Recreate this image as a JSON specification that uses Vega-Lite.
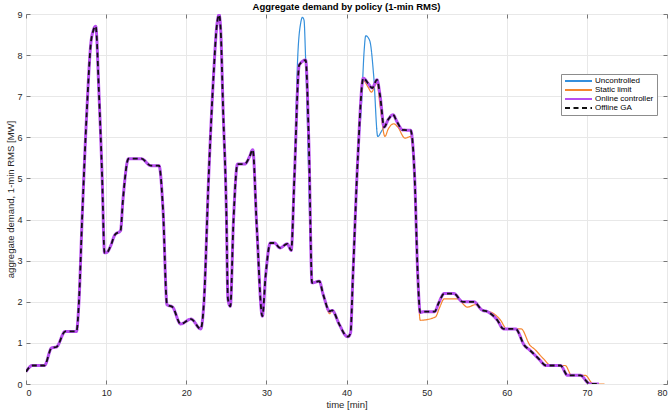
{
  "$schema": "https://vega.github.io/schema/vega-lite/v6.json",
  "width": 641,
  "height": 370,
  "autosize": {"type": "none"},
  "padding": {"left": 26, "top": 14, "right": 4, "bottom": 29},
  "background": "white",
  "title": {"text": "Aggregate demand by policy (1-min RMS)", "fontSize": 9.5, "font": "Liberation Sans", "fontWeight": "bold", "color": "#000000", "offset": 1, "dy": 2.5, "anchor": "middle", "frame": "group"},
  "config": {
    "font": "Liberation Sans",
    "view": {"stroke": "#8c8c8c", "strokeWidth": 1},
    "axis": {
      "labelFont": "Liberation Sans", "labelFontSize": 9, "labelColor": "#262626",
      "titleFont": "Liberation Sans", "titleFontSize": 9.5, "titleFontWeight": "normal", "titleColor": "#262626",
      "gridColor": "#e8e8e8", "gridWidth": 1, "domain": false,
      "tickColor": "#777777", "tickSize": -4, "labelPadding": 8
    },
    "legend": {
      "orient": "none", "legendX": 535, "legendY": 60,
      "symbolType": "stroke", "symbolSize": 729, "symbolStrokeWidth": 2,
      "labelFont": "Liberation Sans", "labelFontSize": 8, "labelColor": "#000000",
      "clipHeight": 8, "rowPadding": 1, "padding": 3, "labelOffset": 2,
      "fillColor": "white", "strokeColor": "#8c8c8c"
    }
  },
  "datasets": {
    "unc": [
      {"t":0,"v":0.30},{"t":0.8,"v":0.45},{"t":2.3,"v":0.45},{"t":3.2,"v":0.88},{"t":3.8,"v":0.90},{"t":4.9,"v":1.28},{"t":6.3,"v":1.28},{"t":6.6,"v":1.97},{"t":7.0,"v":4.0},{"t":7.6,"v":6.67},{"t":8.1,"v":8.3},{"t":8.4,"v":8.6},{"t":8.7,"v":8.7},{"t":9.1,"v":7.1},{"t":9.5,"v":5.05},{"t":9.8,"v":3.19},{"t":10.1,"v":3.2},{"t":10.5,"v":3.33},{"t":11.1,"v":3.63},{"t":11.8,"v":3.73},{"t":12.1,"v":4.48},{"t":12.8,"v":5.48},{"t":14.4,"v":5.48},{"t":15.6,"v":5.31},{"t":16.6,"v":5.31},{"t":17.1,"v":4.24},{"t":17.6,"v":1.93},{"t":18.3,"v":1.87},{"t":19.3,"v":1.46},{"t":20.6,"v":1.58},{"t":21.8,"v":1.34},{"t":22.2,"v":1.97},{"t":22.8,"v":5.05},{"t":23.4,"v":7.48},{"t":23.8,"v":8.69},{"t":24.1,"v":8.98},{"t":24.3,"v":8.61},{"t":24.6,"v":6.67},{"t":25.0,"v":4.24},{"t":25.2,"v":2.07},{"t":25.5,"v":1.89},{"t":25.9,"v":4.0},{"t":26.4,"v":5.35},{"t":27.3,"v":5.35},{"t":27.9,"v":5.53},{"t":28.3,"v":5.7},{"t":28.8,"v":3.83},{"t":29.5,"v":1.65},{"t":29.9,"v":2.62},{"t":30.5,"v":3.43},{"t":31.0,"v":3.43},{"t":31.7,"v":3.31},{"t":32.6,"v":3.41},{"t":33.1,"v":3.25},
      {"t":33.5,"v":5.1},{"t":33.9,"v":7.9},{"t":34.3,"v":8.8},{"t":34.5,"v":8.92},{"t":34.7,"v":8.85},{"t":34.9,"v":7.9},{"t":35.75,"v":2.46},
      {"t":36.6,"v":2.5},{"t":37.1,"v":2.17},{"t":37.9,"v":1.77},{"t":38.2,"v":1.79},{"t":39.1,"v":1.45},{"t":40.0,"v":1.16},{"t":40.2,"v":1.15},{"t":40.5,"v":1.24},{"t":40.8,"v":2.62},{"t":41.4,"v":5.45},
      {"t":41.9,"v":6.9},{"t":42.2,"v":8.1},{"t":42.4,"v":8.47},{"t":42.9,"v":8.35},{"t":43.4,"v":7.48},{"t":43.9,"v":6.02},{"t":44.4,"v":6.16},{"t":44.7,"v":6.25},
      {"t":45.2,"v":6.43},{"t":45.8,"v":6.55},{"t":46.3,"v":6.38},{"t":47.0,"v":6.18},{"t":48.0,"v":6.17},{"t":48.5,"v":5.05},{"t":48.9,"v":2.62},{"t":49.2,"v":1.74},{"t":49.7,"v":1.76},{"t":51.0,"v":1.76},{"t":51.5,"v":1.97},{"t":52.2,"v":2.2},{"t":53.4,"v":2.2},{"t":54.5,"v":2.0},{"t":55.9,"v":2.0},{"t":56.9,"v":1.8},{"t":57.6,"v":1.76},{"t":58.8,"v":1.56},{"t":59.6,"v":1.34},{"t":61.1,"v":1.34},{"t":62.2,"v":0.94},{"t":62.9,"v":0.82},{"t":64.0,"v":0.61},{"t":64.9,"v":0.45},{"t":66.7,"v":0.45},{"t":67.6,"v":0.21},{"t":69.2,"v":0.21},{"t":70.2,"v":0.02},{"t":70.6,"v":0},{"t":71.5,"v":0}
    ],
    "stat": [
      {"t":0,"v":0.30},{"t":0.8,"v":0.45},{"t":2.3,"v":0.45},{"t":3.2,"v":0.88},{"t":3.8,"v":0.90},{"t":4.9,"v":1.28},{"t":6.3,"v":1.28},{"t":6.6,"v":1.97},{"t":7.0,"v":4.0},{"t":7.6,"v":6.67},{"t":8.1,"v":8.3},{"t":8.4,"v":8.6},{"t":8.7,"v":8.7},{"t":9.1,"v":7.1},{"t":9.5,"v":5.05},{"t":9.8,"v":3.19},{"t":10.1,"v":3.2},{"t":10.5,"v":3.33},{"t":11.1,"v":3.63},{"t":11.8,"v":3.73},{"t":12.1,"v":4.48},{"t":12.8,"v":5.48},{"t":14.4,"v":5.48},{"t":15.6,"v":5.31},{"t":16.6,"v":5.31},{"t":17.1,"v":4.24},{"t":17.6,"v":1.93},{"t":18.3,"v":1.87},{"t":19.3,"v":1.46},{"t":20.6,"v":1.58},{"t":21.8,"v":1.34},{"t":22.2,"v":1.97},{"t":22.8,"v":5.05},{"t":23.4,"v":7.48},{"t":23.8,"v":8.69},{"t":24.1,"v":8.98},{"t":24.3,"v":8.61},{"t":24.6,"v":6.67},{"t":25.0,"v":4.24},{"t":25.2,"v":2.07},{"t":25.5,"v":1.89},{"t":25.9,"v":4.0},{"t":26.4,"v":5.35},{"t":27.3,"v":5.35},{"t":27.9,"v":5.53},{"t":28.3,"v":5.7},{"t":28.8,"v":3.83},{"t":29.5,"v":1.65},{"t":29.9,"v":2.62},{"t":30.5,"v":3.43},{"t":31.0,"v":3.43},{"t":31.7,"v":3.31},{"t":32.6,"v":3.41},{"t":33.1,"v":3.25},{"t":33.5,"v":5.05},{"t":34.1,"v":7.74},{"t":34.9,"v":7.86},{"t":35.3,"v":5.86},{"t":35.7,"v":2.46},{"t":36.6,"v":2.5},{"t":37.1,"v":2.17},{"t":37.9,"v":1.71},{"t":38.2,"v":1.79},{"t":39.1,"v":1.45},{"t":40.0,"v":1.16},{"t":40.2,"v":1.15},{"t":40.5,"v":1.24},{"t":40.8,"v":2.62},{"t":41.4,"v":5.45},
      {"t":42.1,"v":7.38},{"t":42.7,"v":7.22},{"t":43.1,"v":7.1},{"t":43.8,"v":7.32},{"t":44.2,"v":6.75},{"t":44.8,"v":6.02},{"t":45.2,"v":6.2},{"t":45.9,"v":6.33},{"t":46.4,"v":6.25},{"t":47.3,"v":5.98},{"t":48.0,"v":6.02},{"t":48.5,"v":5.0},{"t":48.9,"v":2.55},{"t":49.2,"v":1.55},{"t":51.1,"v":1.63},{"t":51.6,"v":1.85},{"t":52.2,"v":2.07},{"t":53.8,"v":2.07},{"t":55.1,"v":1.87},{"t":56.1,"v":1.93},{"t":57.1,"v":1.79},{"t":58.2,"v":1.73},{"t":59.2,"v":1.56},{"t":60.0,"v":1.34},{"t":61.8,"v":1.34},{"t":62.9,"v":0.94},{"t":63.4,"v":0.86},{"t":64.6,"v":0.61},{"t":65.5,"v":0.45},{"t":67.3,"v":0.45},{"t":68.1,"v":0.21},{"t":69.8,"v":0.21},{"t":70.8,"v":0},{"t":72.2,"v":0}
    ],
    "online": [
      {"t":0,"v":0.30},{"t":0.8,"v":0.45},{"t":2.3,"v":0.45},{"t":3.2,"v":0.88},{"t":3.8,"v":0.90},{"t":4.9,"v":1.28},{"t":6.3,"v":1.28},{"t":6.6,"v":1.97},{"t":7.0,"v":4.0},{"t":7.6,"v":6.67},{"t":8.1,"v":8.3},{"t":8.4,"v":8.6},{"t":8.7,"v":8.7},{"t":9.1,"v":7.1},{"t":9.5,"v":5.05},{"t":9.8,"v":3.19},{"t":10.1,"v":3.2},{"t":10.5,"v":3.33},{"t":11.1,"v":3.63},{"t":11.8,"v":3.73},{"t":12.1,"v":4.48},{"t":12.8,"v":5.48},{"t":14.4,"v":5.48},{"t":15.6,"v":5.31},{"t":16.6,"v":5.31},{"t":17.1,"v":4.24},{"t":17.6,"v":1.93},{"t":18.3,"v":1.87},{"t":19.3,"v":1.46},{"t":20.6,"v":1.58},{"t":21.8,"v":1.34},{"t":22.2,"v":1.97},{"t":22.8,"v":5.05},{"t":23.4,"v":7.48},{"t":23.8,"v":8.69},{"t":24.1,"v":8.98},{"t":24.3,"v":8.61},{"t":24.6,"v":6.67},{"t":25.0,"v":4.24},{"t":25.2,"v":2.07},{"t":25.5,"v":1.89},{"t":25.9,"v":4.0},{"t":26.4,"v":5.35},{"t":27.3,"v":5.35},{"t":27.9,"v":5.53},{"t":28.3,"v":5.7},{"t":28.8,"v":3.83},{"t":29.5,"v":1.65},{"t":29.9,"v":2.62},{"t":30.5,"v":3.43},{"t":31.0,"v":3.43},{"t":31.7,"v":3.31},{"t":32.6,"v":3.41},{"t":33.1,"v":3.25},{"t":33.5,"v":5.05},{"t":34.1,"v":7.76},{"t":34.9,"v":7.88},{"t":35.3,"v":5.86},{"t":35.7,"v":2.46},{"t":36.6,"v":2.5},{"t":37.1,"v":2.17},{"t":37.9,"v":1.77},{"t":38.2,"v":1.79},{"t":39.1,"v":1.45},{"t":40.0,"v":1.16},{"t":40.2,"v":1.15},{"t":40.5,"v":1.24},{"t":40.8,"v":2.62},{"t":41.4,"v":5.45},{"t":42.1,"v":7.44},{"t":42.7,"v":7.31},{"t":43.2,"v":7.2},{"t":43.8,"v":7.4},{"t":44.2,"v":7.0},{"t":44.7,"v":6.25},{"t":45.2,"v":6.43},{"t":45.8,"v":6.55},{"t":46.3,"v":6.38},{"t":47.0,"v":6.18},{"t":48.0,"v":6.17},{"t":48.5,"v":5.05},{"t":48.9,"v":2.62},{"t":49.2,"v":1.74},{"t":49.7,"v":1.76},{"t":51.0,"v":1.76},{"t":51.5,"v":1.97},{"t":52.2,"v":2.2},{"t":53.4,"v":2.2},{"t":54.5,"v":2.0},{"t":55.9,"v":2.0},{"t":56.9,"v":1.8},{"t":57.6,"v":1.76},{"t":58.8,"v":1.56},{"t":59.6,"v":1.34},{"t":61.1,"v":1.34},{"t":62.2,"v":0.94},{"t":62.9,"v":0.82},{"t":64.0,"v":0.61},{"t":64.9,"v":0.45},{"t":66.7,"v":0.45},{"t":67.6,"v":0.21},{"t":69.2,"v":0.21},{"t":70.2,"v":0.02},{"t":70.6,"v":0},{"t":71.5,"v":0}
    ],
    "ga": [
      {"t":0,"v":0.30},{"t":0.8,"v":0.45},{"t":2.3,"v":0.45},{"t":3.2,"v":0.88},{"t":3.8,"v":0.90},{"t":4.9,"v":1.28},{"t":6.3,"v":1.28},{"t":6.6,"v":1.97},{"t":7.0,"v":4.0},{"t":7.6,"v":6.67},{"t":8.1,"v":8.3},{"t":8.4,"v":8.6},{"t":8.7,"v":8.7},{"t":9.1,"v":7.1},{"t":9.5,"v":5.05},{"t":9.8,"v":3.19},{"t":10.1,"v":3.2},{"t":10.5,"v":3.33},{"t":11.1,"v":3.63},{"t":11.8,"v":3.73},{"t":12.1,"v":4.48},{"t":12.8,"v":5.48},{"t":14.4,"v":5.48},{"t":15.6,"v":5.31},{"t":16.6,"v":5.31},{"t":17.1,"v":4.24},{"t":17.6,"v":1.93},{"t":18.3,"v":1.87},{"t":19.3,"v":1.46},{"t":20.6,"v":1.58},{"t":21.8,"v":1.34},{"t":22.2,"v":1.97},{"t":22.8,"v":5.05},{"t":23.4,"v":7.48},{"t":23.8,"v":8.69},{"t":24.1,"v":8.98},{"t":24.3,"v":8.61},{"t":24.6,"v":6.67},{"t":25.0,"v":4.24},{"t":25.2,"v":2.07},{"t":25.5,"v":1.89},{"t":25.9,"v":4.0},{"t":26.4,"v":5.35},{"t":27.3,"v":5.35},{"t":27.9,"v":5.53},{"t":28.3,"v":5.7},{"t":28.8,"v":3.83},{"t":29.5,"v":1.65},{"t":29.9,"v":2.62},{"t":30.5,"v":3.43},{"t":31.0,"v":3.43},{"t":31.7,"v":3.31},{"t":32.6,"v":3.41},{"t":33.1,"v":3.25},{"t":33.5,"v":5.05},{"t":34.1,"v":7.76},{"t":34.9,"v":7.88},{"t":35.3,"v":5.86},{"t":35.7,"v":2.46},{"t":36.6,"v":2.5},{"t":37.1,"v":2.17},{"t":37.9,"v":1.77},{"t":38.2,"v":1.79},{"t":39.1,"v":1.45},{"t":40.0,"v":1.16},{"t":40.2,"v":1.15},{"t":40.5,"v":1.24},{"t":40.8,"v":2.62},{"t":41.4,"v":5.45},{"t":42.1,"v":7.44},{"t":42.7,"v":7.31},{"t":43.2,"v":7.2},{"t":43.8,"v":7.4},{"t":44.2,"v":7.0},{"t":44.7,"v":6.25},{"t":45.2,"v":6.43},{"t":45.8,"v":6.55},{"t":46.3,"v":6.38},{"t":47.0,"v":6.18},{"t":48.0,"v":6.17},{"t":48.5,"v":5.05},{"t":48.9,"v":2.62},{"t":49.2,"v":1.74},{"t":49.7,"v":1.76},{"t":51.0,"v":1.76},{"t":51.5,"v":1.97},{"t":52.2,"v":2.2},{"t":53.4,"v":2.2},{"t":54.5,"v":2.0},{"t":55.9,"v":2.0},{"t":56.9,"v":1.8},{"t":57.6,"v":1.76},{"t":58.8,"v":1.56},{"t":59.6,"v":1.34},{"t":61.1,"v":1.34},{"t":62.2,"v":0.94},{"t":62.9,"v":0.82},{"t":64.0,"v":0.61},{"t":64.9,"v":0.45},{"t":66.7,"v":0.45},{"t":67.6,"v":0.21},{"t":69.2,"v":0.21},{"t":70.2,"v":0.02},{"t":70.6,"v":0},{"t":71.3,"v":0}
    ]
  },
  "layer": [
    {
      "data": {"name": "unc"},
      "mark": {"type": "line", "interpolate": "monotone", "strokeWidth": 1.2, "clip": true},
      "encoding": {
        "x": {"field": "t", "type": "quantitative", "scale": {"domain": [0, 80], "nice": false, "zero": false},
              "axis": {"orient": "bottom", "values": [0,10,20,30,40,50,60,70,80], "title": "time [min]", "grid": true, "titleX": 320.5, "titleY": 20, "titleBaseline": "middle", "titleAnchor": "middle"}},
        "y": {"field": "v", "type": "quantitative", "scale": {"domain": [0, 9], "nice": false, "zero": false},
              "axis": {"orient": "left", "values": [0,1,2,3,4,5,6,7,8,9], "title": "aggregate demand, 1-min RMS [MW]", "grid": true, "titleX": -16, "titleY": 185, "titleBaseline": "middle", "titleAngle": -90, "titleAnchor": "middle"}},
        "color": {"datum": "Uncontrolled", "type": "nominal",
                  "scale": {"domain": ["Uncontrolled", "Static limit", "Online controller", "Offline GA"], "range": ["#3590dc", "#f5862e", "#b84ef0", "#111111"]},
                  "legend": {"title": null}},
        "strokeDash": {"datum": "Uncontrolled", "type": "nominal",
                  "scale": {"domain": ["Uncontrolled", "Static limit", "Online controller", "Offline GA"], "range": [[1, 0], [1, 0], [1, 0], [5, 3.5]]},
                  "legend": {"title": null}}
      }
    },
    {
      "data": {"name": "stat"},
      "mark": {"type": "line", "interpolate": "monotone", "strokeWidth": 1.2, "clip": true},
      "encoding": {
        "x": {"field": "t", "type": "quantitative", "axis": null},
        "y": {"field": "v", "type": "quantitative", "axis": null},
        "color": {"datum": "Static limit", "type": "nominal"},
        "strokeDash": {"datum": "Static limit", "type": "nominal"}
      }
    },
    {
      "data": {"name": "online"},
      "mark": {"type": "line", "interpolate": "monotone", "strokeWidth": 3, "clip": true},
      "encoding": {
        "x": {"field": "t", "type": "quantitative", "axis": null},
        "y": {"field": "v", "type": "quantitative", "axis": null},
        "color": {"datum": "Online controller", "type": "nominal"},
        "strokeDash": {"datum": "Online controller", "type": "nominal"}
      }
    },
    {
      "data": {"name": "ga"},
      "mark": {"type": "line", "interpolate": "monotone", "strokeWidth": 1.8, "clip": true},
      "encoding": {
        "x": {"field": "t", "type": "quantitative",
              "axis": {"orient": "top", "values": [0,10,20,30,40,50,60,70,80], "labels": false, "title": null, "grid": false}},
        "y": {"field": "v", "type": "quantitative",
              "axis": {"orient": "right", "values": [0,1,2,3,4,5,6,7,8,9], "labels": false, "title": null, "grid": false}},
        "color": {"datum": "Offline GA", "type": "nominal"},
        "strokeDash": {"datum": "Offline GA", "type": "nominal"}
      }
    }
  ],
  "resolve": {"axis": {"x": "independent", "y": "independent"}}
}
